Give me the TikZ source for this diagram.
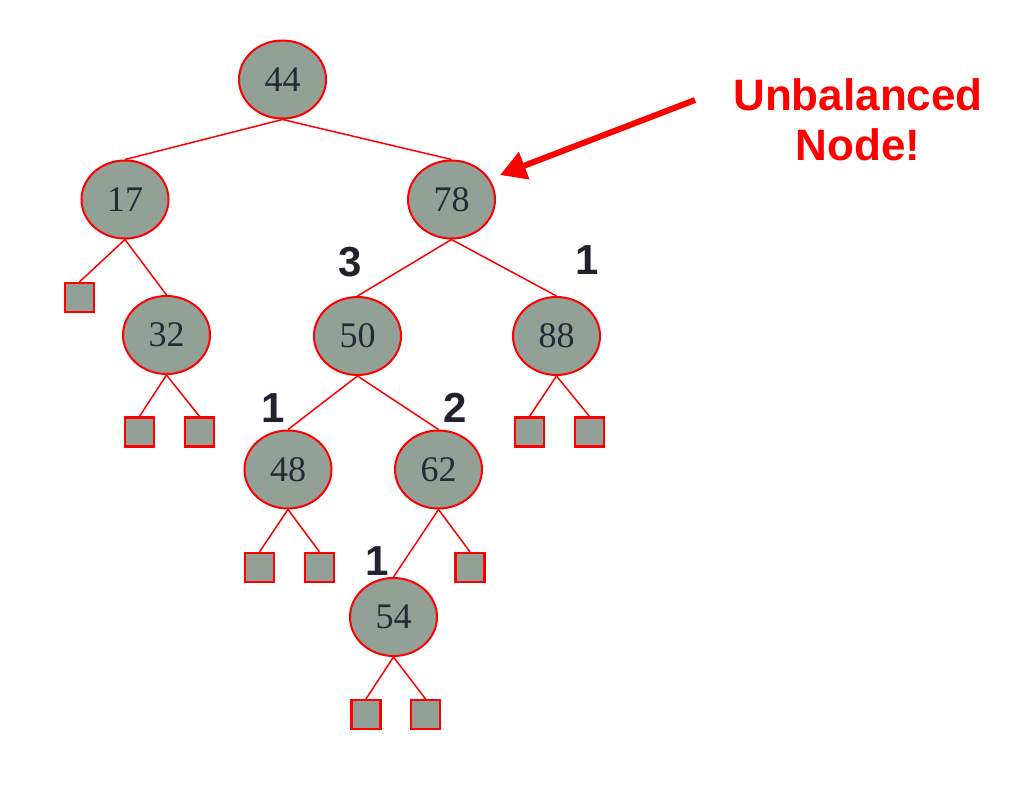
\documentclass[tikz,border=0pt]{standalone}
\usepackage{fontspec}
\setmainfont{Liberation Serif}
\newfontfamily\labfont{Liberation Sans}
\usetikzlibrary{shapes.geometric,arrows.meta}
\definecolor{nodegray}{RGB}{146,160,150}
\definecolor{numtxt}{RGB}{38,42,54}
\definecolor{labtxt}{RGB}{34,34,46}
\definecolor{pured}{RGB}{255,0,0}
\tikzset{
  tnode/.style={ellipse, draw=pured, line width=2pt, fill=nodegray, minimum width=87pt, minimum height=78pt, inner sep=0pt, text=numtxt, font=\fontsize{36}{40}\selectfont},
  leaf/.style={rectangle, draw=pured, line width=2.2pt, fill=nodegray, minimum width=29pt, minimum height=29pt, inner sep=0pt},
  edge/.style={draw=pured, line width=1.5pt},
  bal/.style={text=labtxt, font=\labfont\bfseries\fontsize{42}{48}\selectfont, inner sep=0pt},
  note/.style={text=pured, font=\labfont\bfseries\fontsize{44}{50}\selectfont, align=center, inner sep=0pt},
  bigarrow/.style={draw=pured, line width=6pt, -{Triangle[length=26pt,width=28pt]}}
}
\begin{document}
\begin{tikzpicture}[x=1pt,y=-1pt]
\useasboundingbox[fill=white] (0,0) rectangle (1024,784);
% tree nodes
\node[tnode] (n44) at (282.5,79.5) {44};
\node[tnode] (n17) at (125,199.5) {17};
\node[tnode] (n78) at (451.5,199.5) {78};
\node[tnode] (n32) at (166.5,335) {32};
\node[tnode] (n50) at (357.5,336) {50};
\node[tnode] (n88) at (556.5,336) {88};
\node[tnode] (n48) at (288,469.5) {48};
\node[tnode] (n62) at (438.5,469.5) {62};
\node[tnode] (n54) at (393.5,617) {54};
% leaves
\node[leaf] (l17) at (79.5,297.5) {};
\node[leaf] (l32a) at (139.5,432) {};
\node[leaf] (l32b) at (199.5,432) {};
\node[leaf] (l88a) at (529.5,432) {};
\node[leaf] (l88b) at (589.5,432) {};
\node[leaf] (l48a) at (259.5,567.5) {};
\node[leaf] (l48b) at (319.5,567.5) {};
\node[leaf] (l62) at (470,567.5) {};
\node[leaf] (l54a) at (366,714.5) {};
\node[leaf] (l54b) at (425.5,714.5) {};
% edges
\draw[edge] (n44.south) -- (n17.north);
\draw[edge] (n44.south) -- (n78.north);
\draw[edge] (n17.south) -- (l17.north);
\draw[edge] (n17.south) -- (n32.north);
\draw[edge] (n32.south) -- (l32a.north);
\draw[edge] (n32.south) -- (l32b.north);
\draw[edge] (n78.south) -- (n50.north);
\draw[edge] (n78.south) -- (n88.north);
\draw[edge] (n88.south) -- (l88a.north);
\draw[edge] (n88.south) -- (l88b.north);
\draw[edge] (n50.south) -- (n48.north);
\draw[edge] (n50.south) -- (n62.north);
\draw[edge] (n48.south) -- (l48a.north);
\draw[edge] (n48.south) -- (l48b.north);
\draw[edge] (n62.south) -- (n54.north);
\draw[edge] (n62.south) -- (l62.north);
\draw[edge] (n54.south) -- (l54a.north);
\draw[edge] (n54.south) -- (l54b.north);
% balance labels
\node[bal] (b50) at (350,262) {3};
\node[bal] (b88) at (587,260) {1};
\node[bal] (b48) at (273,408) {1};
\node[bal] (b62) at (455,408) {2};
\node[bal] (b54) at (377,561) {1};
% annotation
\node[note] (note) at (858,120) {Unbalanced\\Node!};
\coordinate (astart) at (695,100);
\coordinate (aend) at (500,175);
\draw[bigarrow] (astart) -- (aend);
\end{tikzpicture}
\end{document}
